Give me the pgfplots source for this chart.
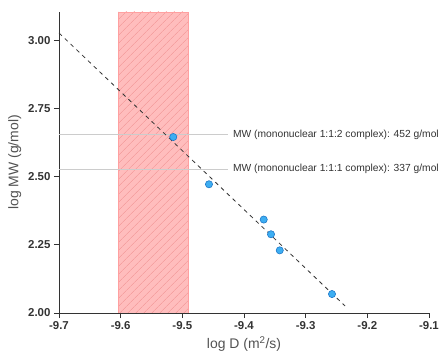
\documentclass[border=0pt]{standalone}
\usepackage{pgfplots}
\pgfplotsset{compat=1.18}
\usepackage{fontspec}
\setmainfont{Liberation Sans}
\usetikzlibrary{patterns.meta}
\definecolor{ptfill}{HTML}{3DAEF2}
\definecolor{ptedge}{HTML}{1F78C8}
\definecolor{rectfill}{HTML}{FFBDBD}
\definecolor{rectedge}{HTML}{FFA0A0}
\definecolor{hatchc}{HTML}{F5A0A0}
\definecolor{axc}{HTML}{333333}
\definecolor{guide}{HTML}{CCCCCC}
\begin{document}
\begin{tikzpicture}
\begin{axis}[
  at={(0,0)}, anchor=south west,
  scale only axis, width=370bp, height=301bp,
  xmin=-9.7, xmax=-9.1, ymin=2.0, ymax=3.105,
  axis x line*=bottom, axis y line*=left,
  axis line style={axc, line width=0.9pt},
  xtick={-9.7,-9.6,-9.5,-9.4,-9.3,-9.2,-9.1},
  ytick={2,2.25,2.5,2.75,3},
  tick align=outside, major tick length=5bp,
  tick style={axc, line width=0.9pt},
  /pgf/number format/assume math mode=true,
  xticklabel style={/pgf/number format/.cd, fixed, fixed zerofill, precision=1},
  yticklabel style={/pgf/number format/.cd, fixed, fixed zerofill, precision=2},
  ticklabel style={font=\fontsize{11.5}{12}\selectfont\bfseries, text=axc},
  xlabel={log D (m\textsuperscript{2}/s)},
  ylabel={log MW (g/mol)},
  label style={font=\fontsize{14}{16}\selectfont, text=axc!85},
  clip mode=individual,
]
\addplot[draw=rectedge, line width=0.8pt, fill=rectfill,
  postaction={pattern={Lines[angle=45, distance=6bp, line width=0.8bp]}, pattern color=hatchc}]
  coordinates {(-9.603,2.0) (-9.49,2.0) (-9.49,3.105) (-9.603,3.105)} -- cycle;
\addplot[guide, line width=0.9pt] coordinates {(-9.7,2.655) (-9.426,2.655)};
\addplot[guide, line width=0.9pt] coordinates {(-9.7,2.5276) (-9.426,2.5276)};
\addplot[axc, line width=0.8pt, dash pattern=on 4bp off 4bp] coordinates {(-9.7,3.028) (-9.236,2.0256)};
\addplot[only marks, mark=*, mark size=3.6bp, mark options={fill=ptfill, draw=ptedge, line width=0.6pt}]
  coordinates {
  (-9.5147,2.646)
  (-9.4568,2.4725)
  (-9.368,2.343)
  (-9.3562,2.289)
  (-9.342,2.230)
  (-9.2573,2.0696)
  };
\node[anchor=west, inner sep=0pt, font=\fontsize{10.3}{11}\selectfont, text=axc] at (axis cs:-9.418,2.655) {MW (mononuclear 1:1:2 complex): 452 g/mol};
\node[anchor=west, inner sep=0pt, font=\fontsize{10.3}{11}\selectfont, text=axc] at (axis cs:-9.418,2.5276) {MW (mononuclear 1:1:1 complex): 337 g/mol};
\end{axis}
\pgfresetboundingbox
\path[use as bounding box] (-59bp,-47bp) rectangle (382bp,313bp);
\end{tikzpicture}
\end{document}
